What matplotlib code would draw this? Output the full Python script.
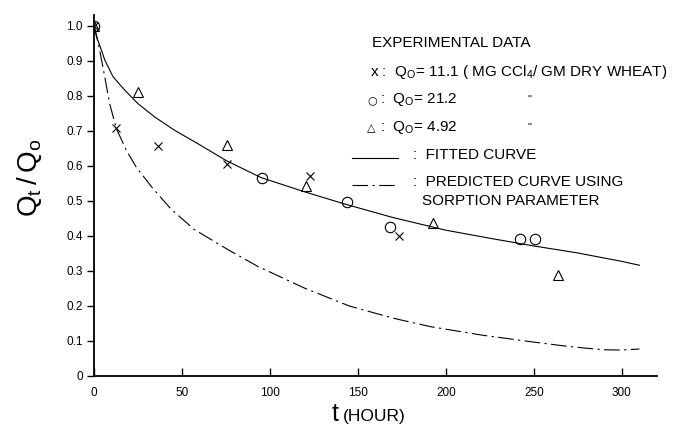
"""Desorption of CCl4 from wheat: Qt/Qo vs time"""
import matplotlib
matplotlib.use("Agg")
import matplotlib.pyplot as plt
from matplotlib import font_manager
from matplotlib.lines import Line2D

# experimental data (t in hours, Qt/Qo)
t_x = [0, 12.3, 36.2, 75.4, 122.7, 173.3]
q_x = [1.0, 0.708, 0.655, 0.605, 0.571, 0.399]

t_o = [0, 95.5, 143.6, 168.0, 242.0, 250.6]
q_o = [1.0, 0.566, 0.497, 0.426, 0.390, 0.390]

t_tri = [0, 25.2, 75.4, 120.5, 192.8, 263.8]
q_tri = [1.0, 0.810, 0.659, 0.542, 0.436, 0.289]

# fitted curve
t_fit = [0, 1.3, 4.2, 6.1, 10.8, 17.4, 25, 34.5, 45.8, 59, 75, 95, 120, 143,
         170, 200, 225, 250, 275, 300, 310]
q_fit = [1.0, 0.97, 0.93, 0.902, 0.854, 0.816, 0.777, 0.739, 0.701, 0.663,
         0.615, 0.566, 0.525, 0.49, 0.452, 0.416, 0.393, 0.371, 0.351, 0.327,
         0.316]

# predicted curve (sorption parameter)
t_pred = [0, 1.3, 3.2, 6.1, 8.9, 12.7, 18.4, 24, 33, 44, 57, 76, 93, 120, 145,
          170, 191, 220, 248, 270, 289, 300, 310]
q_pred = [1.0, 0.975, 0.93, 0.854, 0.777, 0.706, 0.644, 0.596, 0.538, 0.475,
          0.418, 0.361, 0.313, 0.25, 0.20, 0.165, 0.141, 0.117, 0.098, 0.084,
          0.075, 0.074, 0.077]

x_ticks = [0, 50, 100, 150, 200, 250, 300]
y_ticks = [0, 0.1, 0.2, 0.3, 0.4, 0.5, 0.6, 0.7, 0.8, 0.9, 1.0]
y_ticklabels = ['0', '0.1', '0.2', '0.3', '0.4', '0.5', '0.6', '0.7', '0.8',
                '0.9', '1.0']

installed = {f.name for f in font_manager.fontManager.ttflist}
font = 'Liberation Sans Narrow' if 'Liberation Sans Narrow' in installed else 'Liberation Sans'
plt.rcParams['font.family'] = [font, 'DejaVu Sans']

W, H = 685, 426
fig = plt.figure(figsize=(W / 100, H / 100), dpi=100)
ax = fig.add_axes([94 / W, 1 - 376 / H, (657 - 94) / W, (376 - 15) / H])

ax.plot(t_fit, q_fit, color='black', lw=0.8)
ax.plot(t_pred, q_pred, color='black', lw=0.8, linestyle=(0, (14, 4, 2, 4)))
ax.plot(t_x, q_x, linestyle='none', marker='x', ms=5.5, mew=0.8, color='black')
ax.plot(t_o, q_o, linestyle='none', marker='o', ms=7.5, mew=0.8,
        mfc='none', mec='black')
ax.plot(t_tri, q_tri, linestyle='none', marker='^', ms=7, mew=0.8,
        mfc='none', mec='black')

ax.set_xlim(0, 320)
ax.set_ylim(0, 1.03)
ax.spines['top'].set_visible(False)
ax.spines['right'].set_visible(False)
ax.spines['left'].set_linewidth(1.3)
ax.spines['bottom'].set_linewidth(1.3)
ax.set_xticks(x_ticks)
ax.set_xticklabels([str(v) for v in x_ticks])
ax.set_yticks(y_ticks)
ax.set_yticklabels(y_ticklabels)
ax.tick_params(axis='x', direction='in', length=6, width=1, labelsize=8.5, pad=8)
ax.tick_params(axis='y', direction='out', length=5, width=1, labelsize=8.5, pad=3)


def px(x, y):
    return x / W, 1 - y / H


# axis labels
fig.text(*px(30, 178), r'$\mathregular{Q_t\,/\,Q_o}$', rotation=90,
         fontsize=20, ha='center', va='center')
fig.text(*px(338, 421), 't', fontsize=18, ha='right', va='baseline')
fig.text(*px(343, 421), '(HOUR)', fontsize=12.5, ha='left', va='baseline')

# hand-drawn style legend
fs = 11
fig.text(*px(372, 43), 'EXPERIMENTAL DATA', fontsize=fs, va='center')
fig.text(*px(370, 72), r'x :  Q$_\mathregular{O}$= 11.1 ( MG CCl$_\mathregular{4}$/ GM DRY WHEAT)',
         fontsize=fs, va='center')
fig.text(*px(367, 100), '○', fontsize=8, va='center', family='DejaVu Sans')
fig.text(*px(380, 100), r':  Q$_\mathregular{O}$= 21.2', fontsize=fs, va='center')
fig.text(*px(367, 128), '△', fontsize=8, va='center', family='DejaVu Sans')
fig.text(*px(380, 128), r':  Q$_\mathregular{O}$= 4.92', fontsize=fs, va='center')
fig.text(*px(527, 100), '"', fontsize=8, va='center')
fig.text(*px(527, 128), '"', fontsize=8, va='center')
fig.add_artist(Line2D([352 / W, 398 / W], [1 - 158 / H] * 2, color='black', lw=0.8))
fig.text(*px(413, 155), ':  FITTED CURVE', fontsize=fs, va='center')
fig.add_artist(Line2D([352 / W, 398 / W], [1 - 185 / H] * 2, color='black', lw=0.8,
                      linestyle=(0, (14, 4, 2, 4))))
fig.text(*px(413, 182), ':  PREDICTED CURVE USING', fontsize=fs, va='center')
fig.text(*px(422, 201), 'SORPTION PARAMETER', fontsize=fs, va='center')

fig.savefig('out.png', dpi=100)
